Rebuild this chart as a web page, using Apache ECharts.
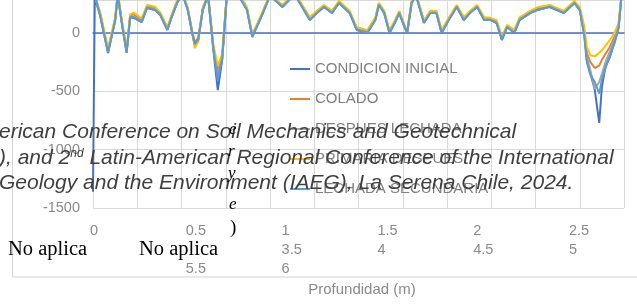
<!DOCTYPE html>
<html><head><meta charset="utf-8">
<script src="https://cdn.jsdelivr.net/npm/echarts@6/dist/echarts.min.js"></script>
<style>html,body{margin:0;padding:0;background:#fff}#c{width:637px;height:306px}</style>
</head><body><div id="c"></div>
<script>
// ---- data ----
const depths = [0, 0.02, 0.08, 0.17, 0.25, 0.28, 0.33, 0.38, 0.42, 0.46, 0.55, 0.61, 0.70, 0.76, 0.84, 0.89, 0.95, 1.01, 1.07, 1.12, 1.15, 1.19, 1.24, 1.30, 1.36, 1.41, 1.46, 1.51, 1.60, 1.74, 1.80, 1.85, 1.92, 2.00, 2.14, 2.28, 2.45, 2.53, 2.61, 2.70, 2.78, 2.90, 2.98, 3.10, 3.19, 3.23, 3.29, 3.35, 3.41, 3.46, 3.52, 3.55, 3.60, 3.65, 3.74, 3.81, 3.88, 3.94, 4.02, 4.11, 4.19, 4.26, 4.34, 4.42, 4.49, 4.56, 4.62, 4.68, 4.76, 4.82, 4.94, 5.02, 5.16, 5.32, 5.44, 5.50, 5.55, 5.58, 5.62, 5.67, 5.72, 5.75, 5.79, 5.84, 5.90, 5.94, 5.97, 6.00];

const seriesNames = ['CONDICION INICIAL', 'COLADO', 'DESPUES LECHADA', 'PRIMARIA DESPUES', 'LECHADA SECUNDARIA'];

const condicionInicial = [-1360, 300, 150, -171, 111, 330, 60, -171, 137, 129, 94, 214, 197, 154, 26, 137, 257, 330, 200, 0, -100, -60, 197, 320, -146, -489, -231, 300, 380, 197, -34, 51, 171, 320, 223, 330, 111, 171, 223, 171, 257, 171, 26, 0, 111, 240, 171, 0, 86, 171, 51, 0, 257, 320, 86, 171, 171, 0, 111, 223, 111, 171, 223, 111, 111, 86, -60, 51, 0, 111, 171, 197, 223, 171, 257, 197, 0, -231, -343, -489, -771, -463, -291, -206, -60, 51, 300, 350];

const colado = [350, 320, 170, -150, 120, 340, 80, -150, 150, 160, 110, 230, 215, 165, 40, 150, 270, 340, 210, 20, -80, -40, 210, 330, -120, -330, -200, 310, 390, 210, -20, 60, 185, 330, 235, 340, 125, 180, 235, 185, 265, 180, 40, 15, 125, 250, 185, 15, 95, 180, 60, 10, 265, 330, 100, 180, 185, 15, 120, 235, 125, 180, 235, 125, 120, 100, -40, 60, 15, 125, 185, 210, 235, 185, 265, 210, 30, -170, -250, -300, -280, -230, -180, -120, -20, 80, 310, 360];

const despuesLechada = [360, 330, 160, -160, 100, 320, 70, -160, 130, 140, 100, 220, 205, 160, 30, 145, 265, 335, 205, 10, -110, -50, 200, 325, -130, -380, -210, 305, 385, 205, -30, 55, 175, 325, 228, 335, 115, 175, 228, 175, 260, 175, 30, 5, 115, 245, 175, 5, 90, 175, 55, 5, 260, 325, 90, 175, 175, 5, 115, 228, 115, 175, 228, 115, 115, 90, -50, 55, 5, 115, 175, 200, 228, 175, 260, 200, 10, -200, -320, -480, -420, -350, -250, -160, -40, 60, 305, 355];

const primariaDespues = [340, 310, 180, -130, 130, 350, 90, -140, 160, 175, 125, 240, 225, 175, 50, 160, 280, 345, 220, 10, -130, -70, 215, 335, -100, -280, -180, 315, 395, 220, -10, 70, 190, 335, 240, 345, 135, 190, 240, 190, 275, 190, 50, 25, 135, 260, 190, 25, 105, 190, 70, 20, 275, 335, 110, 190, 190, 25, 130, 240, 135, 190, 240, 135, 130, 110, -30, 70, 25, 135, 190, 220, 240, 190, 275, 220, 60, -120, -190, -200, -170, -150, -110, -60, 10, 90, 315, 365];

const lechadaSecundaria = [355, 325, 155, -165, 105, 325, 65, -165, 140, 135, 95, 218, 200, 158, 28, 140, 260, 332, 203, 5, -95, -55, 200, 322, -135, -400, -220, 302, 382, 200, -28, 52, 172, 322, 225, 332, 112, 172, 225, 172, 258, 172, 28, 2, 112, 242, 172, 2, 88, 172, 52, 2, 258, 322, 88, 172, 172, 2, 112, 225, 112, 172, 225, 112, 112, 88, -55, 52, 2, 112, 172, 198, 225, 172, 258, 198, -20, -250, -360, -420, -520, -400, -300, -200, -70, 50, 302, 352];

const tickRow1 = ['0', '0.5', '1', '1.5', '2', '2.5'];
const tickRow2 = ['', '', '3.5', '4', '4.5', '5'];
const tickRow3 = ['', '5.5', '6', '', '', ''];

const axisTitle = 'Profundidad (m)';
const headerLine1 = 'erican Conference on Soil Mechanics and Geotechnical';
const headerLine2 = '), and 2{sup|nd} Latin-American Regional Conference of the International';
const headerLine3 = 'Geology and the Environment (IAEG), La Serena Chile, 2024.';
const noAplica = 'No aplica';

// ---- chart ----
const allValues = [condicionInicial, colado, despuesLechada, primariaDespues, lechadaSecundaria];
const colors = ['#4472C4', '#ED7D31', '#A5A5A5', '#FFC000', '#5B9BD5'];
const tickLabels = tickRow1.map((t, i) => [t, tickRow2[i], tickRow3[i]].join('\n'));

const chart = echarts.init(document.getElementById('c'), null, {renderer: 'canvas'});
const labelColor = '#8a8a8a';
const headerFont = 'italic 21px "Liberation Sans", Arial, sans-serif';

chart.setOption({
  animation: false,
  backgroundColor: '#fff',
  grid: [
    {left: 93, right: 13, top: 0, bottom: 98},
    {left: 90, right: 68, top: 213, height: 2}
  ],
  xAxis: [
    {type: 'value', gridIndex: 0, min: 0, max: 6, interval: 0.5,
     axisLine: {show: true, onZero: true, lineStyle: {color: '#4472C4', width: 1.5}},
     axisTick: {show: false}, axisLabel: {show: false},
     splitLine: {show: true, lineStyle: {color: '#d9d9d9', width: 1}}},
    {type: 'category', gridIndex: 1, data: tickLabels, boundaryGap: false,
     axisLine: {show: false}, axisTick: {show: false}, splitLine: {show: false},
     axisLabel: {interval: 0, align: 'left', margin: 6, color: labelColor,
       fontSize: 14.5, lineHeight: 19, fontFamily: '"Liberation Sans", Arial, sans-serif'}}
  ],
  yAxis: [
    {type: 'value', gridIndex: 0, min: -1500, max: 283, interval: 500,
     axisLine: {show: false}, axisTick: {show: false},
     splitLine: {show: true, lineStyle: {color: '#d9d9d9', width: 1}},
     axisLabel: {margin: 13, color: labelColor, fontSize: 14.5, padding: [10, 0, 0, 0],
       showMaxLabel: false,
       fontFamily: '"Liberation Sans", Arial, sans-serif', formatter: v => String(v)}},
    {type: 'value', gridIndex: 1, show: false}
  ],
  legend: {
    orient: 'vertical', left: 290, top: 61, padding: 0,
    itemWidth: 20, itemHeight: 2, itemGap: 14, icon: 'rect',
    data: seriesNames,
    textStyle: {color: '#7f7f7f', fontSize: 15, lineHeight: 16,
      fontFamily: '"Liberation Sans", Arial, sans-serif'}
  },
  series: seriesNames.map((n, i) => ({
    name: n, type: 'line', xAxisIndex: 0, yAxisIndex: 0,
    data: depths.map((d, j) => [d, allValues[i][j]]),
    symbol: 'none', smooth: false,
    lineStyle: {width: 2, color: colors[i]}, itemStyle: {color: colors[i]}
  })),
  graphic: [
    {type: 'rect', silent: true, z: -1, shape: {x: 12.5, y: -5, width: 640, height: 282},
     style: {fill: 'none', stroke: '#d4d4d4', lineWidth: 1}},
    {type: 'text', x: 362, y: 290, style: {text: axisTitle, fill: labelColor,
      font: '15px "Liberation Sans", Arial, sans-serif', textAlign: 'center', textVerticalAlign: 'middle'}},
    {type: 'text', x: -1, y: 132, z: 100, style: {text: headerLine1, fill: '#3f3f3f', font: headerFont, textVerticalAlign: 'middle'}},
    {type: 'text', x: -1, y: 158, z: 100, style: {text: headerLine2, fill: '#3f3f3f', font: headerFont, textVerticalAlign: 'middle',
      rich: {sup: {fontSize: 12, fontStyle: 'italic', fontFamily: '"Liberation Sans", Arial, sans-serif', verticalAlign: 'top', fill: '#3f3f3f'}}}},
    {type: 'text', x: -1, y: 183, z: 100, style: {text: headerLine3, fill: '#3f3f3f', font: headerFont, textVerticalAlign: 'middle'}},
    {type: 'text', x: 8, y: 250, z: 100, style: {text: noAplica, fill: '#000', font: '20.5px "Liberation Serif", "Times New Roman", serif', textVerticalAlign: 'middle'}},
    {type: 'text', x: 139, y: 250, z: 100, style: {text: noAplica, fill: '#000', font: '20.5px "Liberation Serif", "Times New Roman", serif', textVerticalAlign: 'middle'}},
    {type: 'text', x: 229, y: 130, z: 100, style: {text: 'e', fill: '#000', font: 'italic 17px "Liberation Serif", serif', textVerticalAlign: 'middle'}},
    {type: 'text', x: 228, y: 152, z: 100, style: {text: 'r', fill: '#000', font: 'italic 17px "Liberation Serif", serif', textVerticalAlign: 'middle'}},
    {type: 'text', x: 228, y: 174, z: 100, style: {text: 'y', fill: '#000', font: 'italic 17px "Liberation Serif", serif', textVerticalAlign: 'middle'}},
    {type: 'text', x: 229, y: 205, z: 100, style: {text: 'e', fill: '#000', font: 'italic 17px "Liberation Serif", serif', textVerticalAlign: 'middle'}},
    {type: 'text', x: 230, y: 228, z: 100, style: {text: ')', fill: '#000', font: '19px "Liberation Serif", serif', textVerticalAlign: 'middle'}}
  ]
});
</script>
</body></html>
